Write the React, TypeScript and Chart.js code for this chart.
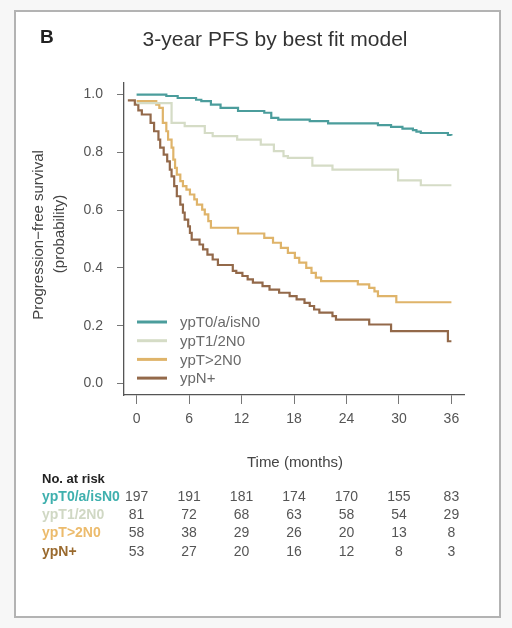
import React, { useEffect, useRef } from "react";
import { Chart, registerables } from "chart.js";

Chart.register(...registerables);

const FONT = '"Liberation Sans", Arial, Helvetica, sans-serif';

const groups = ["ypT0/a/isN0", "ypT1/2N0", "ypT>2N0", "ypN+"];
const lineColors = ["#4b9d9c", "#d5dcc6", "#dfb46a", "#93694a"];
const labelColors = ["#3fb0ae", "#d0d8c4", "#ecbb6c", "#9a6a2e"];

const timeTicks = [0, 6, 12, 18, 24, 30, 36];
const survTicks = [0, 0.2, 0.4, 0.6, 0.8, 1.0];

// ypT0/a/isN0
const t0Times = [0, 3.4, 4.7, 6.8, 7.4, 8.5, 9.6, 11.6, 14.6, 15.4, 16.2, 19.8, 21.9, 27.6, 29.1, 30.4, 31.6, 32.0, 32.5, 35.6, 36];
const t0Surv = [1.0, 0.995, 0.988, 0.982, 0.977, 0.965, 0.954, 0.943, 0.937, 0.919, 0.913, 0.908, 0.9, 0.894, 0.888, 0.882, 0.877, 0.872, 0.867, 0.86, 0.858];

// ypT1/2N0
const t12Times = [0, 4.0, 5.5, 7.8, 8.7, 11.5, 14.2, 15.7, 16.8, 17.3, 20.1, 22.4, 29.9, 32.5, 36];
const t12Surv = [0.97, 0.902, 0.891, 0.867, 0.856, 0.844, 0.827, 0.804, 0.787, 0.781, 0.754, 0.74, 0.703, 0.686, 0.686];

// ypT>2N0
const t3Times = [0, 2.25, 2.6, 3.0, 3.4, 3.6, 4.0, 4.2, 4.4, 4.6, 5.0, 5.3, 5.7, 6.1, 6.6, 6.9, 7.5, 7.8, 8.2, 8.5, 11.6, 14.6, 15.6, 16.5, 17.3, 18.1, 18.6, 19.4, 20.0, 20.5, 21.1, 25.3, 26.6, 27.2, 27.6, 29.7, 36];
const t3Surv = [0.977, 0.965, 0.954, 0.902, 0.873, 0.844, 0.816, 0.775, 0.746, 0.723, 0.7, 0.683, 0.671, 0.654, 0.637, 0.619, 0.602, 0.585, 0.562, 0.539, 0.519, 0.504, 0.487, 0.469, 0.452, 0.435, 0.418, 0.4, 0.383, 0.366, 0.354, 0.343, 0.331, 0.319, 0.302, 0.281, 0.281];

// ypN+
const nTimes = [-1, -0.2, 0.2, 0.6, 1.6, 2.0, 2.5, 2.7, 3.1, 3.5, 3.8, 4.0, 4.3, 4.6, 5.0, 5.3, 5.5, 5.9, 6.1, 6.3, 7.2, 7.6, 8.1, 8.7, 9.3, 11.0, 11.4, 12.1, 12.7, 13.3, 14.4, 15.2, 16.3, 17.5, 18.3, 19.2, 19.8, 20.3, 20.9, 22.4, 22.8, 26.6, 29.1, 35.6, 36];
const nSurv = [0.98, 0.965, 0.945, 0.931, 0.902, 0.873, 0.844, 0.816, 0.792, 0.769, 0.74, 0.717, 0.683, 0.648, 0.619, 0.591, 0.567, 0.544, 0.521, 0.498, 0.481, 0.464, 0.446, 0.429, 0.41, 0.39, 0.383, 0.372, 0.36, 0.349, 0.337, 0.325, 0.314, 0.302, 0.291, 0.279, 0.268, 0.256, 0.245, 0.233, 0.221, 0.204, 0.181, 0.146, 0.146];

const riskT0 = [197, 191, 181, 174, 170, 155, 83];
const riskT12 = [81, 72, 68, 63, 58, 54, 29];
const riskT3 = [58, 38, 29, 26, 20, 13, 8];
const riskN = [53, 27, 20, 16, 12, 8, 3];

const seriesTimes = [t0Times, t12Times, t3Times, nTimes];
const seriesSurv = [t0Surv, t12Surv, t3Surv, nSurv];
const riskRows = [riskT0, riskT12, riskT3, riskN];

const extrasPlugin = {
  id: "extras",
  afterDraw(chart: any) {
    const ctx = chart.ctx;
    const xs = chart.scales.x;
    ctx.save();
    // Panel letter and title
    ctx.fillStyle = "#222";
    ctx.textBaseline = "middle";
    ctx.textAlign = "left";
    ctx.font = `bold 19px ${FONT}`;
    ctx.fillText("B", 40, 38);
    ctx.fillStyle = "#333";
    ctx.textAlign = "center";
    ctx.font = `21px ${FONT}`;
    ctx.fillText("3-year PFS by best fit model", 275, 40);

    // Y title
    ctx.fillStyle = "#444";
    ctx.font = `15px ${FONT}`;
    ctx.save();
    ctx.translate(39, 235);
    ctx.rotate(-Math.PI / 2);
    ctx.fillText("Progression\u2212free survival", 0, 0);
    ctx.restore();
    ctx.save();
    ctx.translate(60, 234);
    ctx.rotate(-Math.PI / 2);
    ctx.fillText("(probability)", 0, 0);
    ctx.restore();

    // X title
    ctx.fillText("Time (months)", 295, 463);

    // Legend
    ctx.textAlign = "left";
    ctx.font = `15px ${FONT}`;
    groups.forEach((g, i) => {
      const y = 322 + i * 18.7;
      ctx.strokeStyle = lineColors[i];
      ctx.lineWidth = 3;
      ctx.beginPath();
      ctx.moveTo(137, y);
      ctx.lineTo(167, y);
      ctx.stroke();
      ctx.fillStyle = "#6a6a6a";
      ctx.fillText(g, 180, y + 1);
    });

    // Risk table
    ctx.fillStyle = "#222";
    ctx.font = `bold 13px ${FONT}`;
    ctx.fillText("No. at risk", 42, 479);
    groups.forEach((g, i) => {
      const y = 497 + i * 18.3;
      ctx.textAlign = "left";
      ctx.font = `bold 14px ${FONT}`;
      ctx.fillStyle = labelColors[i];
      ctx.fillText(g, 42, y);
      ctx.textAlign = "center";
      ctx.font = `14px ${FONT}`;
      ctx.fillStyle = "#555";
      riskRows[i].forEach((v, j) => {
        ctx.fillText(String(v), xs.getPixelForValue(timeTicks[j]), y);
      });
    });
    ctx.restore();
  },
};

export default function App() {
  const ref = useRef<HTMLCanvasElement | null>(null);

  useEffect(() => {
    if (!ref.current) return;
    const chart = new Chart(ref.current, {
      type: "line",
      data: {
        datasets: groups.map((g, i) => ({
          label: g,
          data: seriesTimes[i].map((t, k) => ({ x: t, y: seriesSurv[i][k] })),
          borderColor: lineColors[i],
          backgroundColor: lineColors[i],
          borderWidth: 2.2,
          pointRadius: 0,
          fill: false,
          stepped: "before",
          tension: 0,
        })),
      },
      options: {
        responsive: false,
        animation: false,
        layout: { padding: { left: 0, top: 83, right: 48, bottom: 193 } },
        plugins: { legend: { display: false }, tooltip: { enabled: false }, title: { display: false } },
        scales: {
          x: {
            type: "linear",
            min: -1.44,
            max: 37.44,
            afterBuildTicks: (s: any) => {
              s.ticks = timeTicks.map((v) => ({ value: v }));
            },
            afterFit: (s: any) => {
              s.height = 40;
            },
            grid: { display: true, drawOnChartArea: false, drawTicks: true, tickLength: 9, color: "#777", lineWidth: 1 },
            border: { display: true, color: "#555", width: 1.3 },
            ticks: {
              color: "#555",
              font: { family: FONT, size: 14 },
              padding: 7,
              maxRotation: 0,
              autoSkip: false,
              callback: (v: any) => String(v),
            },
          },
          y: {
            type: "linear",
            min: -0.04,
            max: 1.04,
            afterBuildTicks: (s: any) => {
              s.ticks = survTicks.map((v) => ({ value: v }));
            },
            afterFit: (s: any) => {
              s.width = 124;
            },
            grid: { display: true, drawOnChartArea: false, drawTicks: true, tickLength: 7, color: "#777", lineWidth: 1 },
            border: { display: true, color: "#555", width: 1.3 },
            ticks: {
              color: "#555",
              font: { family: FONT, size: 14 },
              padding: 14,
              autoSkip: false,
              callback: (v: any) => Number(v).toFixed(1),
            },
          },
        },
      },
      plugins: [extrasPlugin],
    } as any);
    return () => chart.destroy();
  }, []);

  return (
    <div style={{ position: "fixed", left: 0, top: 0, width: 512, height: 628, background: "#f7f7f7", overflow: "hidden" }}>
      <div
        style={{
          position: "absolute",
          left: 14,
          top: 10,
          width: 487,
          height: 608,
          boxSizing: "border-box",
          border: "2px solid #b3b3b3",
          background: "#ffffff",
        }}
      />
      <canvas ref={ref} width={512} height={628} style={{ position: "absolute", left: 0, top: 0, width: 512, height: 628 }} />
    </div>
  );
}
